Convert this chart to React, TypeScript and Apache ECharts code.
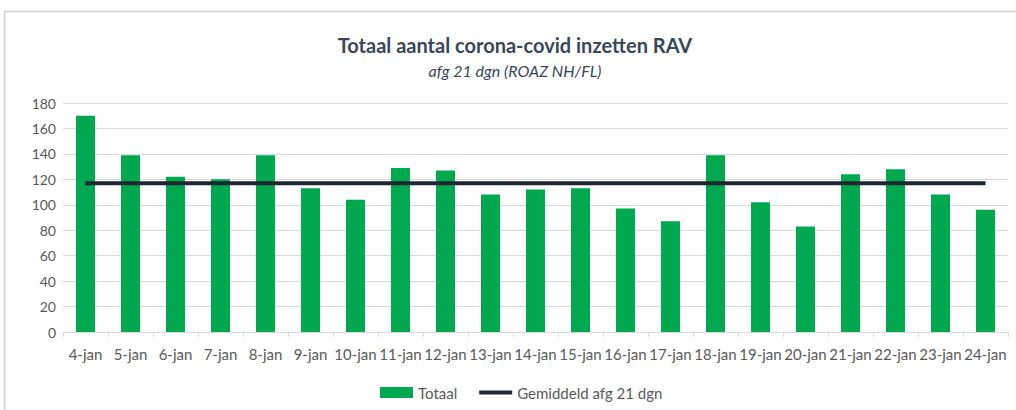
import React, { useEffect, useRef } from "react";
import * as echarts from "echarts";

const categories = [
  "4-jan", "5-jan", "6-jan", "7-jan", "8-jan", "9-jan", "10-jan", "11-jan", "12-jan", "13-jan", "14-jan",
  "15-jan", "16-jan", "17-jan", "18-jan", "19-jan", "20-jan", "21-jan", "22-jan", "23-jan", "24-jan",
];
const totaal = [170, 139, 122, 120, 139, 113, 104, 129, 127, 108, 112, 113, 97, 87, 139, 102, 83, 124, 128, 108, 96];
const gemiddeld = [117, 117, 117, 117, 117, 117, 117, 117, 117, 117, 117, 117, 117, 117, 117, 117, 117, 117, 117, 117, 117];
const yTicks = { min: 0, max: 180, interval: 20 };

const FONT = "Lato, 'Open Sans', sans-serif";

export default function App() {
  const ref = useRef<HTMLDivElement>(null);
  useEffect(() => {
    if (!ref.current) return;
    const chart = echarts.init(ref.current, undefined, { renderer: "svg" });
    chart.setOption({
      animation: false,
      backgroundColor: "#ffffff",
      textStyle: { fontFamily: FONT },
      graphic: [
        {
          type: "rect",
          shape: { x: 4.5, y: 11.5, width: 1030, height: 420 },
          style: { fill: "none", stroke: "#d0d0d0", lineWidth: 1.5 },
          silent: true,
        },
      ],
      title: {
        text: "Totaal aantal corona-covid inzetten RAV",
        subtext: "afg 21 dgn (ROAZ NH/FL)",
        left: 510,
        textAlign: "center",
        top: 30,
        itemGap: 7,
        textStyle: { fontFamily: FONT, fontSize: 20, fontWeight: "bold", color: "#3a4756" },
        subtextStyle: { fontFamily: FONT, fontSize: 16, fontStyle: "italic", color: "#3a4756" },
      },
      legend: {
        top: 380,
        left: 375,
        itemGap: 22,
        itemWidth: 33,
        itemHeight: 11,
        textStyle: { fontFamily: FONT, fontSize: 15, color: "#595959" },
        data: [
          { name: "Totaal", icon: "rect" },
          { name: "Gemiddeld afg 21 dgn", icon: "path://M0,0 L33,0 L33,4 L0,4 Z" },
        ],
      },
      grid: { left: 63, right: 8, top: 103, bottom: 78 },
      xAxis: {
        type: "category",
        data: categories,
        boundaryGap: true,
        axisLine: { lineStyle: { color: "#d9d9d9" } },
        axisTick: { show: true, length: 5, lineStyle: { color: "#d9d9d9" } },
        axisLabel: { color: "#595959", fontSize: 15, margin: 14, interval: 0, fontFamily: FONT },
      },
      yAxis: {
        type: "value",
        min: yTicks.min,
        max: yTicks.max,
        interval: yTicks.interval,
        axisLine: { show: false },
        axisTick: { show: false },
        axisLabel: { color: "#595959", fontSize: 14, margin: 7, fontFamily: FONT },
        splitLine: { lineStyle: { color: "#d9d9d9", width: 1 } },
      },
      series: [
        {
          name: "Totaal",
          type: "bar",
          data: totaal,
          barWidth: 19,
          itemStyle: { color: "#00a84f" },
        },
        {
          name: "Gemiddeld afg 21 dgn",
          type: "line",
          data: gemiddeld,
          symbol: "none",
          lineStyle: { color: "#1e2631", width: 4 },
          itemStyle: { color: "#1e2631" },
        },
      ],
    });
    return () => chart.dispose();
  }, []);
  return (
    <div
      ref={ref}
      style={{ position: "fixed", left: 0, top: 0, width: 1016, height: 410 }}
    />
  );
}
